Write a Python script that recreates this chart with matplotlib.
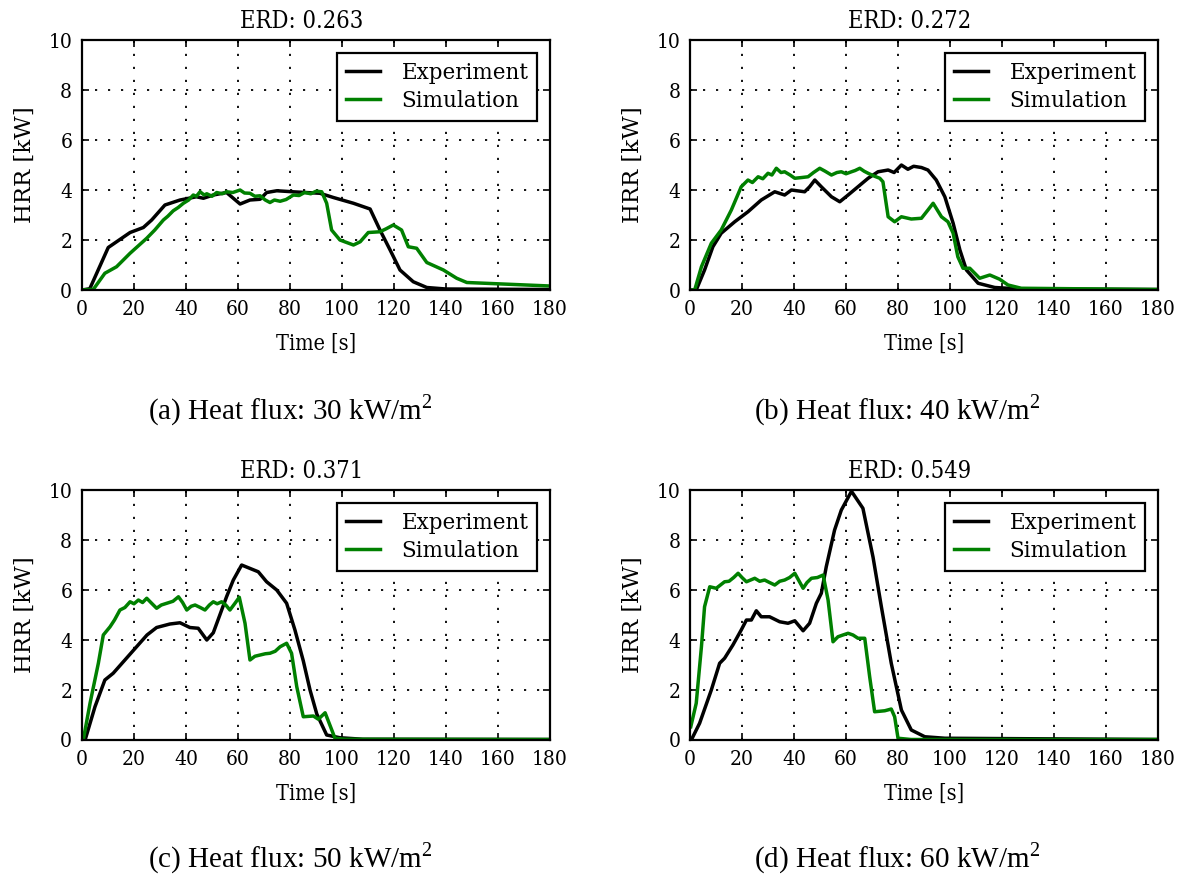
import matplotlib
matplotlib.use("Agg")
import matplotlib.pyplot as plt
from matplotlib.font_manager import FontProperties

# datos: tiempo (s) y HRR (kW)
t_exp_a = [0, 3, 10.1, 18.5, 23.6, 26.8, 31.9, 37.7, 44, 46.7, 50.5, 55.6, 60.8, 64.6, 68.5,
           71, 74.9, 82.6, 91.5, 96.7, 104.4, 110.8, 114.6, 118.5, 122.3, 127.4, 132.6, 140, 180]
hrr_exp_a = [0, 0.05, 1.7, 2.3, 2.5, 2.8, 3.4, 3.6, 3.73, 3.67, 3.8, 3.9, 3.44, 3.6, 3.63,
             3.9, 3.97, 3.92, 3.87, 3.7, 3.47, 3.24, 2.4, 1.6, 0.8, 0.33, 0.1, 0.04, 0.02]
t_sim_a = [0, 4.4, 8.8, 13.3, 18.5, 24.9, 28, 31.3, 33, 35.1, 37, 39, 41, 42.8, 44, 45.4, 47,
           48, 50, 51.8, 54, 55.6, 58, 60.8, 62.5, 64.6, 66.5, 68.5, 70.5, 72.3, 74, 76.2, 78.5,
           81.3, 83.5, 85.6, 88, 90, 92.2, 94.1, 96, 99.2, 104.4, 107, 110.1, 114.6,
           117, 119.7, 122.9, 125.5, 128.7, 132.6, 139, 144.1, 148, 159.5, 180]
hrr_sim_a = [0, 0.03, 0.67, 0.93, 1.47, 2.07, 2.4, 2.8, 2.95, 3.17, 3.3, 3.47, 3.6, 3.8, 3.75,
             3.93, 3.8, 3.85, 3.75, 3.9, 3.85, 3.93, 3.9, 4.0, 3.88, 3.87, 3.75, 3.77, 3.6,
             3.5, 3.6, 3.55, 3.62, 3.8, 3.78, 3.9, 3.85, 3.95, 3.93, 3.47, 2.4, 2.0, 1.8,
             1.93, 2.3, 2.33, 2.45, 2.6, 2.4, 1.73, 1.67, 1.1, 0.8, 0.47, 0.3, 0.25, 0.16]

t_exp_b = [0, 2.4, 5.6, 8.8, 12, 17.2, 22.3, 27.4, 32.6, 36.4, 39, 44.1, 46, 48, 50.5, 54.4,
           57.6, 60.8, 64.6, 68.5, 72.3, 76.2, 78.5, 81.3, 83.8, 86, 89, 91.5, 94.7, 98,
           101.2, 103.8, 106.3, 110.8, 117.2, 127.4, 180]
hrr_exp_b = [0, 0, 0.8, 1.73, 2.27, 2.73, 3.13, 3.6, 3.93, 3.8, 4.0, 3.93, 4.13, 4.4, 4.13, 3.73,
             3.53, 3.8, 4.13, 4.47, 4.73, 4.8, 4.7, 5.0, 4.83, 4.95, 4.9, 4.8, 4.4, 3.73,
             2.67, 1.6, 0.8, 0.27, 0.1, 0.04, 0.02]
t_sim_b = [0, 1.8, 4.4, 8.2, 12, 15.9, 19.7, 22.3, 24, 26.2, 28, 30, 31.5, 33.2, 35, 36.4,
           38.5, 40.3, 43, 45.4, 47.5, 49.9, 52, 54.4, 56.5, 58.2, 60, 62.1, 63.5, 65.3, 67,
           68.5, 71, 73, 74.2, 76.2, 78.7, 81.3, 85.1, 89, 91.5, 93.5, 96.7, 99.2, 101.2, 103,
           105, 107.6, 111.4, 115.3, 119.1, 122.3, 127.4, 180]
hrr_sim_b = [0, 0, 0.93, 1.87, 2.4, 3.2, 4.13, 4.4, 4.3, 4.53, 4.45, 4.67, 4.6, 4.87, 4.7,
             4.73, 4.6, 4.47, 4.5, 4.53, 4.7, 4.87, 4.75, 4.6, 4.7, 4.73, 4.65, 4.73, 4.78,
             4.87, 4.75, 4.67, 4.55, 4.47, 4.33, 2.93, 2.73, 2.93, 2.84, 2.87, 3.2, 3.47,
             2.93, 2.73, 2.27, 1.33, 0.87, 0.87, 0.47, 0.6, 0.43, 0.2, 0.07, 0.02]

t_exp_c = [0, 1.2, 5, 8.8, 12, 16.5, 21, 25, 28.7, 33.8, 37.7, 41.5, 44.7, 48, 50.5, 55.6,
           58.2, 61.4, 67.8, 71, 74.9, 78.7, 81.9, 85.1, 87.7, 90.3, 94.1, 99.2, 108, 180]
hrr_exp_c = [0, 0, 1.33, 2.4, 2.67, 3.2, 3.73, 4.2, 4.5, 4.64, 4.69, 4.5, 4.47, 4.0, 4.29, 5.73,
             6.4, 7.0, 6.73, 6.33, 6.0, 5.47, 4.4, 3.17, 2.0, 1.04, 0.2, 0.09, 0.03, 0.02]
t_sim_c = [0, 0.5, 3.1, 6.3, 8.2, 10.8, 12.5, 14.6, 16.5, 18.5, 20, 21.7, 23.3, 24.9, 26.5,
           28.7, 30.5, 32.6, 35, 37.1, 38.7, 40.3, 42, 43.5, 45.5, 47.3, 49, 50.5, 52, 53.7,
           55.3, 56.9, 58.7, 60.5, 62.7, 64.6, 66.5, 68.5, 70.5, 72.3, 74.3, 76.2, 78.7,
           80.6, 82.6, 85.1, 89, 90.9, 93.5, 97.3, 101, 180]
hrr_sim_c = [0, 0, 1.47, 3.07, 4.2, 4.53, 4.8, 5.2, 5.3, 5.53, 5.45, 5.6, 5.5, 5.67, 5.5,
             5.27, 5.4, 5.47, 5.55, 5.73, 5.5, 5.2, 5.35, 5.4, 5.3, 5.2, 5.4, 5.53, 5.45,
             5.53, 5.4, 5.2, 5.45, 5.71, 4.67, 3.2, 3.35, 3.4, 3.45, 3.47, 3.55, 3.73, 3.87,
             3.47, 2.13, 0.93, 0.96, 0.83, 1.09, 0.07, 0.03, 0.02]

t_exp_d = [0, 0.5, 3.7, 8.2, 11.4, 13.3, 16.5, 19.7, 21.7, 23.6, 25.5, 27.4, 30.6, 34.5, 37.7,
           40.3, 43.5, 46, 48.6, 50.5, 52.4, 55.6, 58.2, 62.1, 66.5, 70.4, 73.6, 77.4, 81.3,
           85.1, 90.3, 98, 180]
hrr_exp_d = [0, 0, 0.67, 2.0, 3.07, 3.27, 3.8, 4.4, 4.8, 4.8, 5.17, 4.93, 4.93, 4.73, 4.67,
             4.77, 4.37, 4.67, 5.47, 5.87, 6.93, 8.4, 9.2, 9.95, 9.27, 7.31, 5.33, 3.07, 1.2,
             0.4, 0.13, 0.07, 0.02]
t_sim_d = [0.3, 2.4, 4.4, 5.6, 7.6, 10.1, 11.7, 13.3, 15, 16.8, 18.5, 20, 21.7, 23.3, 24.9,
           26.8, 28.7, 30.6, 32.6, 34.5, 36.4, 38.3, 40.3, 43.5, 45, 46.7, 49, 51.2, 53.1, 55,
           56.9, 58.8, 60.8, 62.7, 64.6, 67.2, 69.1, 71, 73, 74.9, 76, 77.4, 78.7, 80, 85, 180]
hrr_sim_d = [0.53, 1.47, 3.73, 5.33, 6.13, 6.07, 6.2, 6.33, 6.35, 6.5, 6.67, 6.5, 6.33, 6.4,
             6.47, 6.35, 6.4, 6.3, 6.2, 6.35, 6.4, 6.5, 6.67, 6.07, 6.3, 6.47, 6.5, 6.6, 5.6,
             3.93, 4.13, 4.2, 4.27, 4.2, 4.07, 4.07, 2.53, 1.13, 1.15, 1.17, 1.2, 1.24, 0.93,
             0.07, 0.02, 0.02]

erd = ["0.263", "0.272", "0.371", "0.549"]
captions = ["(a) Heat flux: 30 kW/m$^2$", "(b) Heat flux: 40 kW/m$^2$",
            "(c) Heat flux: 50 kW/m$^2$", "(d) Heat flux: 60 kW/m$^2$"]

datos = [
    (t_exp_a, hrr_exp_a, t_sim_a, hrr_sim_a),
    (t_exp_b, hrr_exp_b, t_sim_b, hrr_sim_b),
    (t_exp_c, hrr_exp_c, t_sim_c, hrr_sim_c),
    (t_exp_d, hrr_exp_d, t_sim_d, hrr_sim_d),
]

plt.rcParams["font.family"] = "DejaVu Serif"
plt.rcParams["font.stretch"] = "condensed"  # la figura original parece estirada en vertical
plt.rcParams["mathtext.fontset"] = "custom"
plt.rcParams["mathtext.rm"] = "Liberation Serif"

fig = plt.figure(figsize=(11.88, 8.82), dpi=100)

# posiciones de los ejes [izq, abajo, ancho, alto]
posiciones = [
    [0.069, 0.6712, 0.394, 0.2834],
    [0.5808, 0.6712, 0.394, 0.2834],
    [0.069, 0.161, 0.394, 0.2834],
    [0.5808, 0.161, 0.394, 0.2834],
]
caption_xy = [(290, 410), (897, 410), (290, 858), (897, 858)]

leg_font = FontProperties(family="DejaVu Serif", size=15.5, stretch="normal")

for i, (te, he, ts, hs) in enumerate(datos):
    ax = fig.add_axes(posiciones[i])
    ax.plot(te, he, color="black", lw=2.5, label="Experiment")
    ax.plot(ts, hs, color="green", lw=2.5, label="Simulation")
    ax.set_xlim(0, 180)
    ax.set_ylim(0, 10)
    ax.set_xticks(range(0, 181, 20))
    ax.set_yticks(range(0, 11, 2))
    ax.grid(True, color="black", linestyle=(0, (1.2, 6)), linewidth=1.3)
    ax.tick_params(direction="in", top=True, right=True, labelsize=15, length=5, width=1.2, pad=7)
    for s in ax.spines.values():
        s.set_linewidth(1.6)
    ax.set_xlabel("Time [s]", fontsize=15.5, labelpad=10)
    ax.set_ylabel("HRR [kW]", fontsize=16.5, labelpad=9, fontstretch="normal")
    ax.set_title("ERD: " + erd[i], fontsize=17, pad=9, x=0.47)
    leg = ax.legend(loc="upper right", prop=leg_font, fancybox=False, framealpha=1,
                    edgecolor="black", handlelength=1.6, handletextpad=1.0,
                    borderaxespad=0.6, borderpad=0.4, labelspacing=0.3)
    leg.get_frame().set_linewidth(1.6)
    cx, cy = caption_xy[i]
    fig.text(cx / 1188, 1 - cy / 882, captions[i], ha="center", va="center",
             fontsize=21, family="Liberation Serif", fontstretch="normal")

plt.savefig("out.png", dpi=100)
